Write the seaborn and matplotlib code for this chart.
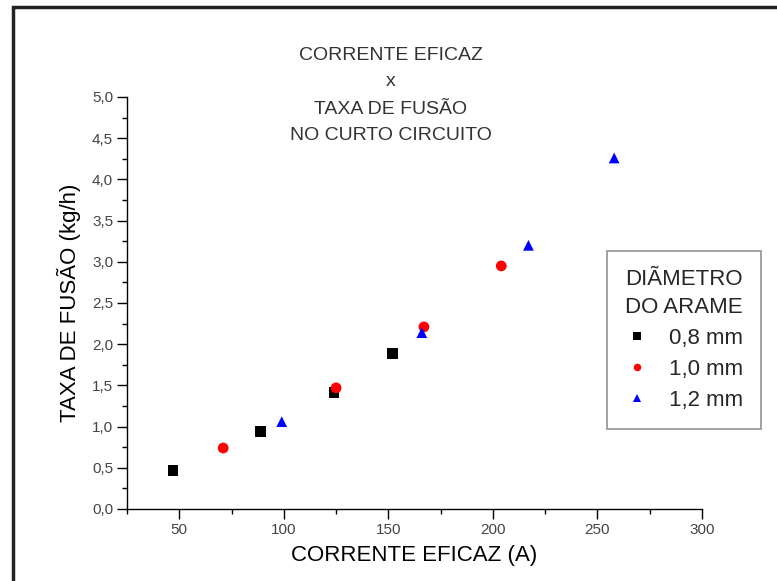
import matplotlib
matplotlib.use("Agg")
import matplotlib.pyplot as plt
import matplotlib.ticker as mticker
from matplotlib.patches import Rectangle
import seaborn as sns
import pandas as pd

# ---- data ----
diam_08 = "0,8 mm"
diam_10 = "1,0 mm"
diam_12 = "1,2 mm"
x_08 = [47, 89, 124, 152]
y_08 = [0.47, 0.94, 1.41, 1.89]
x_10 = [71, 125, 167, 204]
y_10 = [0.74, 1.47, 2.21, 2.95]
x_12 = [99, 166, 217, 258]
y_12 = [1.06, 2.14, 3.20, 4.26]

df = pd.DataFrame({
    "x": x_08 + x_10 + x_12,
    "y": y_08 + y_10 + y_12,
    "d": [diam_08] * len(x_08) + [diam_10] * len(x_10) + [diam_12] * len(x_12),
})

sns.set_theme(style="white")
plt.rcParams["font.family"] = ["Liberation Sans", "DejaVu Sans"]

W, H = 777, 581
fig = plt.figure(figsize=(W / 100, H / 100), dpi=100)
ax = fig.add_axes([127 / W, 1 - 509 / H, (702 - 127) / W, (509 - 97) / H])

palette = {diam_08: "black", diam_10: "red", diam_12: "blue"}
markers = {diam_08: "s", diam_10: "o", diam_12: "^"}
sns.scatterplot(data=df, x="x", y="y", hue="d", style="d", palette=palette,
                markers=markers, s=60, linewidth=0, ax=ax,
                hue_order=[diam_08, diam_10, diam_12])

ax.set_xlim(25, 300)
ax.set_ylim(0, 5)
ax.xaxis.set_major_locator(mticker.MultipleLocator(50))
ax.xaxis.set_minor_locator(mticker.MultipleLocator(25))
ax.yaxis.set_major_locator(mticker.MultipleLocator(0.5))
ax.yaxis.set_minor_locator(mticker.MultipleLocator(0.25))
ax.yaxis.set_major_formatter(mticker.FuncFormatter(lambda v, p: f"{v:.1f}".replace(".", ",")))
ax.xaxis.set_major_formatter(mticker.FuncFormatter(lambda v, p: "" if v < 50 else f"{v:.0f}"))

for s in ["top", "right"]:
    ax.spines[s].set_visible(False)
for s in ["left", "bottom"]:
    ax.spines[s].set_color("black")
    ax.spines[s].set_linewidth(1.0)

ax.tick_params(which="major", direction="out", length=7, width=1, color="black",
               labelsize=11, labelcolor="#444444", bottom=True, left=True, pad=3)
ax.tick_params(which="minor", direction="out", length=3.5, width=1, color="black",
               bottom=True, left=True)

ax.set_xlabel("CORRENTE EFICAZ (A)", fontsize=16, color="black", labelpad=6)
ax.set_ylabel("TAXA DE FUSÃO (kg/h)", fontsize=16, color="black", labelpad=8)

# title block
cx = 391 / W
for txt, py in [("CORRENTE EFICAZ", 55), ("x", 82), ("TAXA DE FUSÃO", 110), ("NO CURTO CIRCUITO", 135)]:
    fig.text(cx, 1 - py / H, txt, ha="center", va="center", fontsize=14, color="#333333")

leg = ax.legend(title="DIÃMETRO\nDO ARAME", loc="upper left",
                bbox_to_anchor=(607 / W, 1 - 251 / H), bbox_transform=fig.transFigure,
                borderaxespad=0, fontsize=16, title_fontsize=16, frameon=True, fancybox=False,
                edgecolor="#777777", borderpad=0.8, handlelength=1.1, handletextpad=0.88,
                labelspacing=0.45, markerscale=0.7)
leg.get_frame().set_linewidth(1.2)
leg.get_title().set_linespacing(1.45)

# outer frame
fig.patches.append(Rectangle((13 / W, -0.05), 1.1, 1 - 7 / H + 0.05, transform=fig.transFigure,
                             fill=False, edgecolor="#222222", linewidth=2.5, zorder=0))

fig.savefig("out.png", dpi=100)
